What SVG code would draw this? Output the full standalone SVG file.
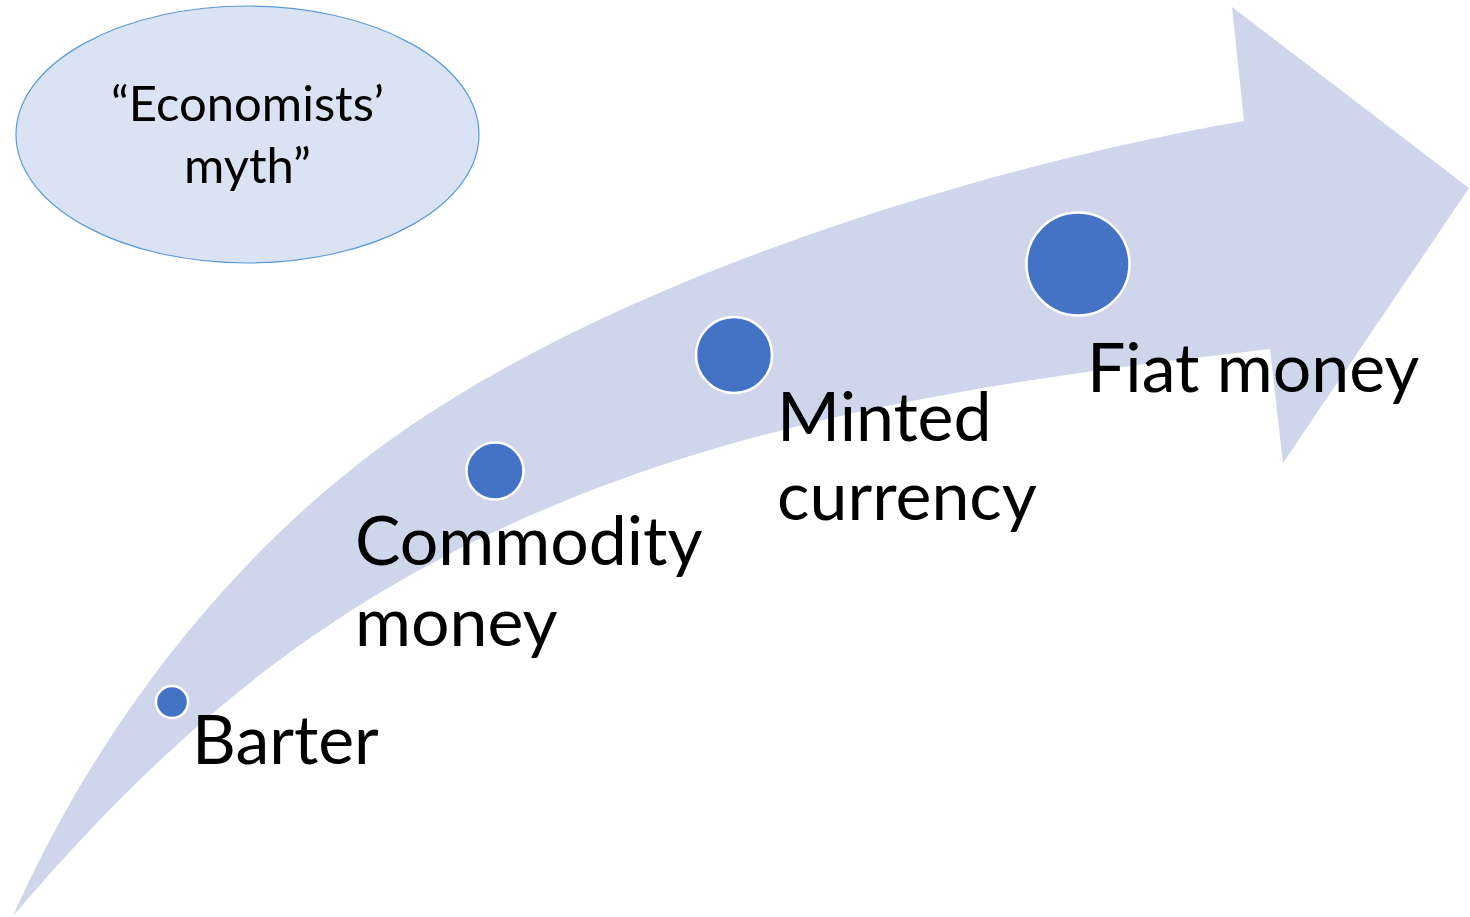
<svg xmlns="http://www.w3.org/2000/svg" width="1470" height="917" viewBox="0 0 1470 917">
  <style>
    .lbl { font-family: Lato, "Liberation Sans", sans-serif; fill: #000000; }
    .big { font-size: 68px; }
    .small { font-size: 49px; }
    .dot { fill: #4472C4; stroke: #FFFFFF; stroke-width: 2.5; }
  </style>
  <rect width="1470" height="917" fill="#FFFFFF"/>
  <g id="arrow">
    <path fill="#CFD5EA" d="M13,916 C96.8,727.7 231.3,551.2 400,433 C621.1,278 978,166.9 1244,121 L1232,7 L1469,188 L1283,463 L1270,349 C1032,376 789,410 567,500 C335,594 175,726 13,916 Z"/>
  </g>
  <g id="myth">
    <ellipse cx="247.5" cy="134.5" rx="231.5" ry="128.5" fill="#DAE3F3" stroke="#5B9BD5" stroke-width="1.2"/>
    <text class="lbl small" x="247.5" y="121" text-anchor="middle">“Economists’</text>
    <text class="lbl small" x="247.5" y="183" text-anchor="middle">myth”</text>
  </g>
  <g id="barter">
    <circle class="dot" cx="172" cy="702" r="16"/>
    <text class="lbl big" x="192" y="764">Barter</text>
  </g>
  <g id="commodity">
    <circle class="dot" cx="495" cy="471" r="28.5"/>
    <text class="lbl big" x="355" y="565">Commodity</text>
    <text class="lbl big" x="355" y="646">money</text>
  </g>
  <g id="minted">
    <circle class="dot" cx="734" cy="355" r="38"/>
    <text class="lbl big" x="777" y="441">Minted</text>
    <text class="lbl big" x="777" y="520">currency</text>
  </g>
  <g id="fiat">
    <circle class="dot" cx="1078" cy="264" r="51.5"/>
    <text class="lbl big" x="1087" y="392">Fiat money</text>
  </g>
  <g id="connectors"></g>
</svg>
